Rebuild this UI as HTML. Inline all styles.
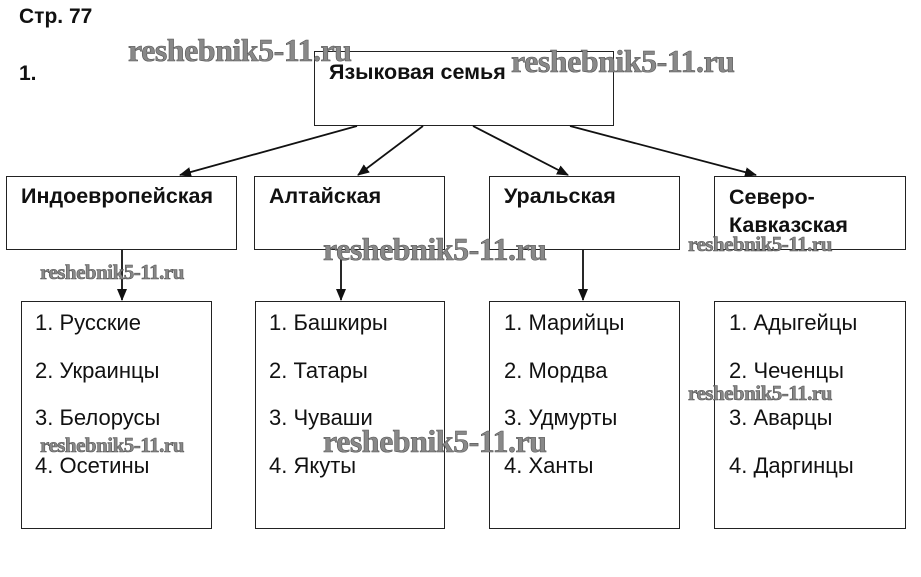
<!DOCTYPE html>
<html><head><meta charset="utf-8"><style>
body{margin:0;width:921px;height:577px;background:#fff;position:relative;overflow:hidden;font-family:"Liberation Sans",sans-serif;color:#111}
.b{position:absolute;border:1.5px solid #222;box-sizing:border-box}
.t{position:absolute;font-size:22px;white-space:nowrap}
.h{font-weight:bold;font-size:21.5px}
.w{position:absolute;font-family:"Liberation Serif",serif;font-weight:bold;color:#888;white-space:nowrap;-webkit-text-stroke:0.6px #555;letter-spacing:-0.5px}
.L{font-size:32px}.S{font-size:21px}
</style></head><body>
<div class="t h" style="left:19px;top:5px;font-size:21px">Стр. 77</div>
<div class="t h" style="left:19px;top:62px;font-size:21px">1.</div>
<div class="b" style="left:314px;top:51px;width:300px;height:75px"></div>
<div class="t h" style="left:329px;top:60px">Языковая семья</div>
<div class="b" style="left:6px;top:176px;width:231px;height:74px"></div>
<div class="b" style="left:254px;top:176px;width:191px;height:74px"></div>
<div class="b" style="left:489px;top:176px;width:191px;height:74px"></div>
<div class="b" style="left:714px;top:176px;width:192px;height:74px"></div>
<div class="t h" style="left:21px;top:184px">Индоевропейская</div>
<div class="t h" style="left:269px;top:184px">Алтайская</div>
<div class="t h" style="left:504px;top:184px">Уральская</div>
<div class="t h" style="left:729px;top:183px;line-height:28px">Северо-<br>Кавказская</div>
<div class="b" style="left:21px;top:301px;width:191px;height:228px"></div>
<div class="b" style="left:255px;top:301px;width:190px;height:228px"></div>
<div class="b" style="left:489px;top:301px;width:191px;height:228px"></div>
<div class="b" style="left:714px;top:301px;width:192px;height:228px"></div>
<div class="t" style="left:35px;top:299px;line-height:47.5px">1. Русские<br>2. Украинцы<br>3. Белорусы<br>4. Осетины</div>
<div class="t" style="left:269px;top:299px;line-height:47.5px">1. Башкиры<br>2. Татары<br>3. Чуваши<br>4. Якуты</div>
<div class="t" style="left:504px;top:299px;line-height:47.5px">1. Марийцы<br>2. Мордва<br>3. Удмурты<br>4. Ханты</div>
<div class="t" style="left:729px;top:299px;line-height:47.5px">1. Адыгейцы<br>2. Чеченцы<br>3. Аварцы<br>4. Даргинцы</div>
<svg width="921" height="577" style="position:absolute;left:0;top:0">
<defs><marker id="a" markerWidth="12" markerHeight="10" refX="11" refY="5" orient="auto" markerUnits="userSpaceOnUse"><path d="M0,0L12,5L0,10z" fill="#111"/></marker></defs>
<g stroke="#111" stroke-width="1.8" marker-end="url(#a)">
<line x1="357" y1="126" x2="180" y2="175"/>
<line x1="423" y1="126" x2="358" y2="175"/>
<line x1="473" y1="126" x2="568" y2="175"/>
<line x1="570" y1="126" x2="756" y2="175"/>
<line x1="122" y1="250" x2="122" y2="300"/>
<line x1="341" y1="250" x2="341" y2="300"/>
<line x1="583" y1="250" x2="583" y2="300"/>
</g></svg>
<div class="w L" style="left:128px;top:32px">reshebnik5-11.ru</div>
<div class="w L" style="left:511px;top:43px">reshebnik5-11.ru</div>
<div class="w L" style="left:323px;top:231px">reshebnik5-11.ru</div>
<div class="w L" style="left:323px;top:423px">reshebnik5-11.ru</div>
<div class="w S" style="left:40px;top:260px">reshebnik5-11.ru</div>
<div class="w S" style="left:40px;top:433px">reshebnik5-11.ru</div>
<div class="w S" style="left:688px;top:232px">reshebnik5-11.ru</div>
<div class="w S" style="left:688px;top:381px">reshebnik5-11.ru</div>
</body></html>
